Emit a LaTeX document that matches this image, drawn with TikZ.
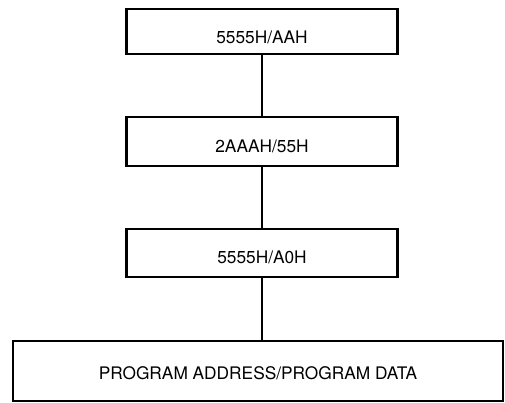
\documentclass[tikz,border=0pt]{standalone}
\usepackage{fontspec}
\setmainfont{TeX Gyre Heros}
\begin{document}
\begin{tikzpicture}[x=1pt,y=-1pt,
  stepbox/.style={draw=black, line width=2.3pt, rectangle, inner sep=0pt, text depth=0pt,
    font=\fontsize{17.3}{20}\selectfont},
  link/.style={draw=black, line width=2.3pt}]
\useasboundingbox (0,0) rectangle (505,402);
\node[stepbox, minimum width=271pt, minimum height=45pt, text height=23pt] (a) at (262,31.5) {5555H/AAH};
\node[stepbox, minimum width=271pt, minimum height=49pt, text height=21pt] (b) at (262,141.5) {2AAAH/55H};
\node[stepbox, minimum width=271pt, minimum height=48pt, text height=20pt] (c) at (262,253) {5555H/A0H};
\node[stepbox, minimum width=490pt, minimum height=60pt, text height=16pt] (d) at (258,371) {PROGRAM ADDRESS/PROGRAM DATA};
\draw[link] (a.south) -- (b.north);
\draw[link] (b.south) -- (c.north);
\draw[link] (c.south) -- (c.south |- d.north);
\end{tikzpicture}
\end{document}
